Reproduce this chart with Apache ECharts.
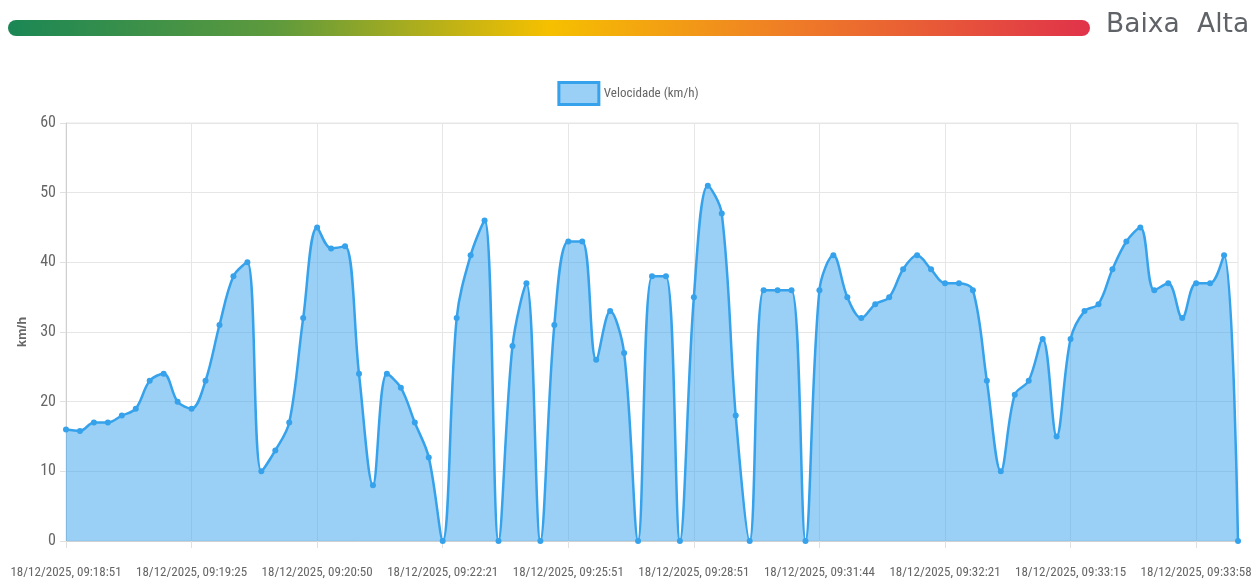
<!DOCTYPE html>
<html><head><meta charset="utf-8">
<script src="https://cdn.jsdelivr.net/npm/echarts@6/dist/echarts.min.js"></script>
<style>html,body{margin:0;padding:0;background:#fff}#c{width:1256px;height:584px}</style>
</head><body><div id="c"></div>
<script>
const tickLabels = ["18/12/2025, 09:18:51","18/12/2025, 09:19:25","18/12/2025, 09:20:50","18/12/2025, 09:22:21","18/12/2025, 09:25:51","18/12/2025, 09:28:51","18/12/2025, 09:31:44","18/12/2025, 09:32:21","18/12/2025, 09:33:15","18/12/2025, 09:33:58"];
const speeds = [16,15.8,17,17,18,19,23,24,20,19,
  23,31,38,40,10,13,17,32,45,42,
  42.3,24,8,24,22,17,12,0,32,41,
  46,0,28,37,0,31,43,43,26,33,
  27,0,38,38,0,35,51,47,18,0,
  36,36,36,0,36,41,35,32,34,35,
  39,41,39,37,37,36,23,10,21,23,
  29,15,29,33,34,39,43,45,36,37,
  32,37,37,41,0];
const seriesName = "Velocidade (km/h)";
const yName = "km/h";
const scaleLow = "Baixa";
const scaleHigh = "Alta";

const categories = speeds.map((v,i)=> i%9===0 && tickLabels[i/9] ? tickLabels[i/9] : "t"+i);

const chart = echarts.init(document.getElementById('c'));
const narrow = "'Roboto Condensed','Liberation Sans',sans-serif";
chart.setOption({
  animation:false,
  graphic:[
    {type:'rect', shape:{x:8,y:20,width:1082,height:16,r:8},
     style:{fill:new echarts.graphic.LinearGradient(0,0,1,0,[
       {offset:0,color:'#1b8755'},{offset:0.25,color:'#5f9a3c'},{offset:0.5,color:'#f6c000'},
       {offset:0.72,color:'#ef7d26'},{offset:1,color:'#e0334a'}])}},
    {type:'text', left:1106, top:12, style:{text:scaleLow, fill:'#5f6368', font:"26.5px 'DejaVu Sans', sans-serif"}},
    {type:'text', left:1197, top:12, style:{text:scaleHigh, fill:'#5f6368', font:"26.5px 'DejaVu Sans', sans-serif"}}
  ],
  legend:{top:76,left:'center',itemWidth:40,itemHeight:22,itemGap:6,
    textStyle:{color:'#666',fontFamily:narrow,fontSize:13},
    data:[{name:seriesName,icon:'rect',itemStyle:{color:'rgba(54,162,235,0.5)',borderColor:'#36a2eb',borderWidth:3}}]},
  grid:{left:66,right:18,top:123,bottom:43,show:true,borderColor:'#e6e6e6',borderWidth:1},
  xAxis:{type:'category',data:categories,boundaryGap:false,
    axisLine:{lineStyle:{color:'#d0d0d0'}},
    axisTick:{show:true,interval:8,length:7,lineStyle:{color:'#e0e0e0'}},
    splitLine:{show:true,interval:8,lineStyle:{color:'#e6e6e6'}},
    axisLabel:{interval:8,showMinLabel:true,hideOverlap:false,color:'#666',fontFamily:narrow,fontSize:13,margin:25}},
  yAxis:{type:'value',min:0,max:60,interval:10,name:yName,nameLocation:'middle',nameGap:27,
    nameTextStyle:{color:'#666',fontFamily:"'Liberation Sans',sans-serif",fontSize:13,fontWeight:'bold'},
    axisLine:{show:true,lineStyle:{color:'#d0d0d0'}},
    axisTick:{show:true,length:6,lineStyle:{color:'#e0e0e0'}},
    splitLine:{lineStyle:{color:'#e6e6e6'}},
    axisLabel:{color:'#666',fontFamily:narrow,fontSize:16,margin:10}},
  series:[{name:seriesName,type:'line',data:speeds,smooth:0.35,clip:true,
    symbol:'circle',symbolSize:6,
    lineStyle:{color:'#36a2eb',width:2.5},
    itemStyle:{color:'#36a2eb'},
    areaStyle:{color:'rgba(54,162,235,0.5)',opacity:1,origin:'start'}}]
});
</script></body></html>
